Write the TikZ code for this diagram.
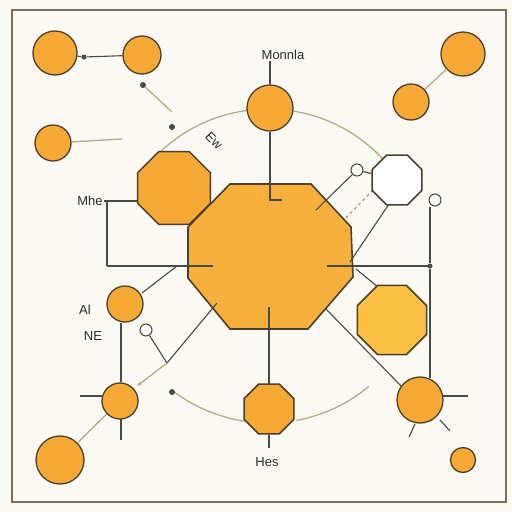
\documentclass[tikz,border=0pt]{standalone}
\usepackage{fontspec}
\setsansfont{Liberation Sans}
\usetikzlibrary{shapes.geometric,calc,arrows.meta}
\definecolor{bg}{HTML}{FBF9F3}
\definecolor{framec}{HTML}{7D6D57}
\definecolor{orng}{HTML}{F7A935}
\definecolor{orngb}{HTML}{F8B03C}
\definecolor{yel}{HTML}{FBBF42}
\definecolor{edge}{HTML}{4D3F2A}
\definecolor{dk}{HTML}{4A4A48}
\definecolor{tan}{HTML}{B8AA88}
\definecolor{txt}{HTML}{2A2A2A}
\begin{document}
\begin{tikzpicture}[x=1pt,y=-1pt,
  ball/.style={circle,draw=edge,line width=1.3pt,fill=orng,inner sep=0pt},
  octo/.style={regular polygon,regular polygon sides=8,draw=edge,line width=1.5pt,fill=orng,inner sep=0pt},
  ring/.style={circle,draw=edge,line width=1pt,fill=white,inner sep=0pt,minimum size=12pt},
  dot/.style={circle,fill=dk,inner sep=0pt,minimum size=6pt},
  dkline/.style={draw=dk,line width=1.1pt},
  tnline/.style={draw=tan,line width=1.3pt},
  lbl/.style={font=\sffamily\fontsize{13}{15}\selectfont,text=txt,inner sep=1pt}]
\useasboundingbox (0,0) rectangle (512,512);
\fill[bg] (0,0) rectangle (512,512);
\draw[framec,line width=1.6pt] (12,10) rectangle (506,502);

% big arcs
\draw[tnline] (268,266) ++(226:157) arc[start angle=226,end angle=318,radius=157];
\draw[tnline] (268,266) ++(128:157) arc[start angle=128,end angle=98.5,radius=157];
\draw[tnline] (268,266) ++(79.6:157) arc[start angle=79.6,end angle=50,radius=157];

% free-end coordinates
\coordinate (e1) at (122,139);
\coordinate (e2) at (172,112);
\coordinate (e3) at (270,200);
\coordinate (e3b) at (282,200);
\coordinate (k1) at (107,201);
\coordinate (k2) at (107,266);
\coordinate (h1) at (213,266);
\coordinate (h2) at (327,266);
\coordinate (v1) at (430,378);
\coordinate (g1) at (316,210);
\coordinate (g2) at (373,190);
\coordinate (g3) at (344,220);
\coordinate (g4) at (389,204);
\coordinate (g5) at (350,262);
\coordinate (m1) at (177,266);
\coordinate (m2) at (217,303);
\coordinate (m3) at (167,363);
\coordinate (m4) at (137,386);
\coordinate (x1) at (80,396);
\coordinate (x2) at (102,396);
\coordinate (x3) at (121,419);
\coordinate (x4) at (121,440);
\coordinate (r1) at (326,309);
\coordinate (r2) at (356,269);
\coordinate (r3) at (378,287);
\coordinate (q1) at (443,396);
\coordinate (q2) at (468,396);
\coordinate (q3) at (415,424);
\coordinate (q4) at (409,437);
\coordinate (q5) at (440,420);
\coordinate (q6) at (450,431);
\coordinate (b1) at (269,307);
\coordinate (b2) at (269,448);

% big octagon
\node[minimum width=165pt,minimum height=145pt,inner sep=0pt] (big) at (270,256) {};
\fill[orngb] (230,184) -- (311,184) -- (351,227) -- (353,277) -- (308,329) -- (230,329) -- (188,278) -- (188,227) -- cycle;

% connectors (under nodes)
\draw[dkline] (h2) -- (430,266);
\draw[dkline] (k2) -- (h1);
\draw[dkline] (k1) -- (k2);
\draw[dkline] (m1) -- (142,293);
\draw[dkline] (m2) -- (m3);
\draw[tnline,-{Stealth[length=5pt]}] (m3) -- (m4);
\draw[dkline] (r1) -- (402,387);
\draw[dkline] (r2) -- (r3);
\draw[dkline] (b1) -- (269,385);
\draw[dkline] (g4) -- (g5);
\draw[tan!80!black,line width=1pt,dashed] (g2) -- (g3);
\draw[edge,line width=1.6pt] (230,184) -- (311,184) -- (351,227) -- (353,277) -- (308,329) -- (230,329) -- (188,278) -- (188,227) -- cycle;

% nodes
\node[ball,minimum size=44pt] (c1) at (55,53) {};
\node[ball,minimum size=38pt] (c2) at (142,55) {};
\node[ball,minimum size=36pt] (c3) at (53,143) {};
\node[ball,minimum size=46pt] (c4) at (270,108) {};
\node[ball,minimum size=36pt] (c5) at (125,304) {};
\node[ball,minimum size=36pt] (c6) at (120,401) {};
\node[ball,minimum size=48pt] (c7) at (60,460) {};
\node[ball,minimum size=46pt] (c8) at (420,400) {};
\node[ball,minimum size=25pt] (c9) at (463,460) {};
\node[ball,minimum size=44pt] (c10) at (463,54) {};
\node[ball,minimum size=36pt] (c11) at (411,102) {};
\node[octo,minimum size=79pt] (o1) at (174,188) {};
\node[octo,minimum size=75pt,fill=yel] (o2) at (392,320) {};
\node[octo,minimum size=54pt,fill=white] (o3) at (397,180) {};
\node[octo,minimum size=54pt] (o4) at (269,409) {};
\node[ring] (s1) at (357,170) {};
\node[ring] (s2) at (435,200) {};
\node[ring] (s3) at (146,330) {};
\node[dot,minimum size=5pt] (d1) at (84,57) {};
\node[dot] (d2) at (143,85) {};
\node[dot] (d3) at (172,127) {};
\node[dot] (d4) at (172,392) {};
\node[dot,minimum size=5pt] (d5) at (430,266) {};

% labels
\node[lbl] (lmon) at (283,55) {Monnla};
\node[lbl] (lmhe) at (90,201) {Mhe};
\node[lbl,rotate=-45] (lew) at (214,141) {Ew};
\node[lbl] (lal) at (85,310) {Al};
\node[lbl] (lne) at (93,336) {NE};
\node[lbl] (lhes) at (267,462) {Hes};

% connectors between nodes
\draw[dkline] (c1) -- (d1) -- (c2);
\draw[tnline] (c3) -- (e1);
\draw[tnline] (d2) -- (e2);
\draw[dkline] (c4.north |- lmon.south) -- (c4);
\draw[dkline] (c4) -- (e3) -- (e3b);
\draw[dkline] (lmhe.east) -- (o1.west |- lmhe.east);
\draw[dkline] (s2.south -| d5) -- (d5) -- (v1);
\draw[dkline] (s1) -- (g1);
\draw[dkline] (s1) -- (o3);
\draw[dkline] (s3) -- (m3);
\draw[dkline] (c5.south -| x3) -- (x3 |- c6.north);
\draw[dkline] (x1) -- (x2);
\draw[dkline] (x3) -- (x4);
\draw[tnline] (c6) -- (c7);
\draw[dkline] (q1) -- (q2);
\draw[dkline] (q3) -- (q4);
\draw[dkline] (q5) -- (q6);
\draw[tnline] (c10) -- (c11);
\draw[dkline] (o4) -- (b2);
\end{tikzpicture}
\end{document}
